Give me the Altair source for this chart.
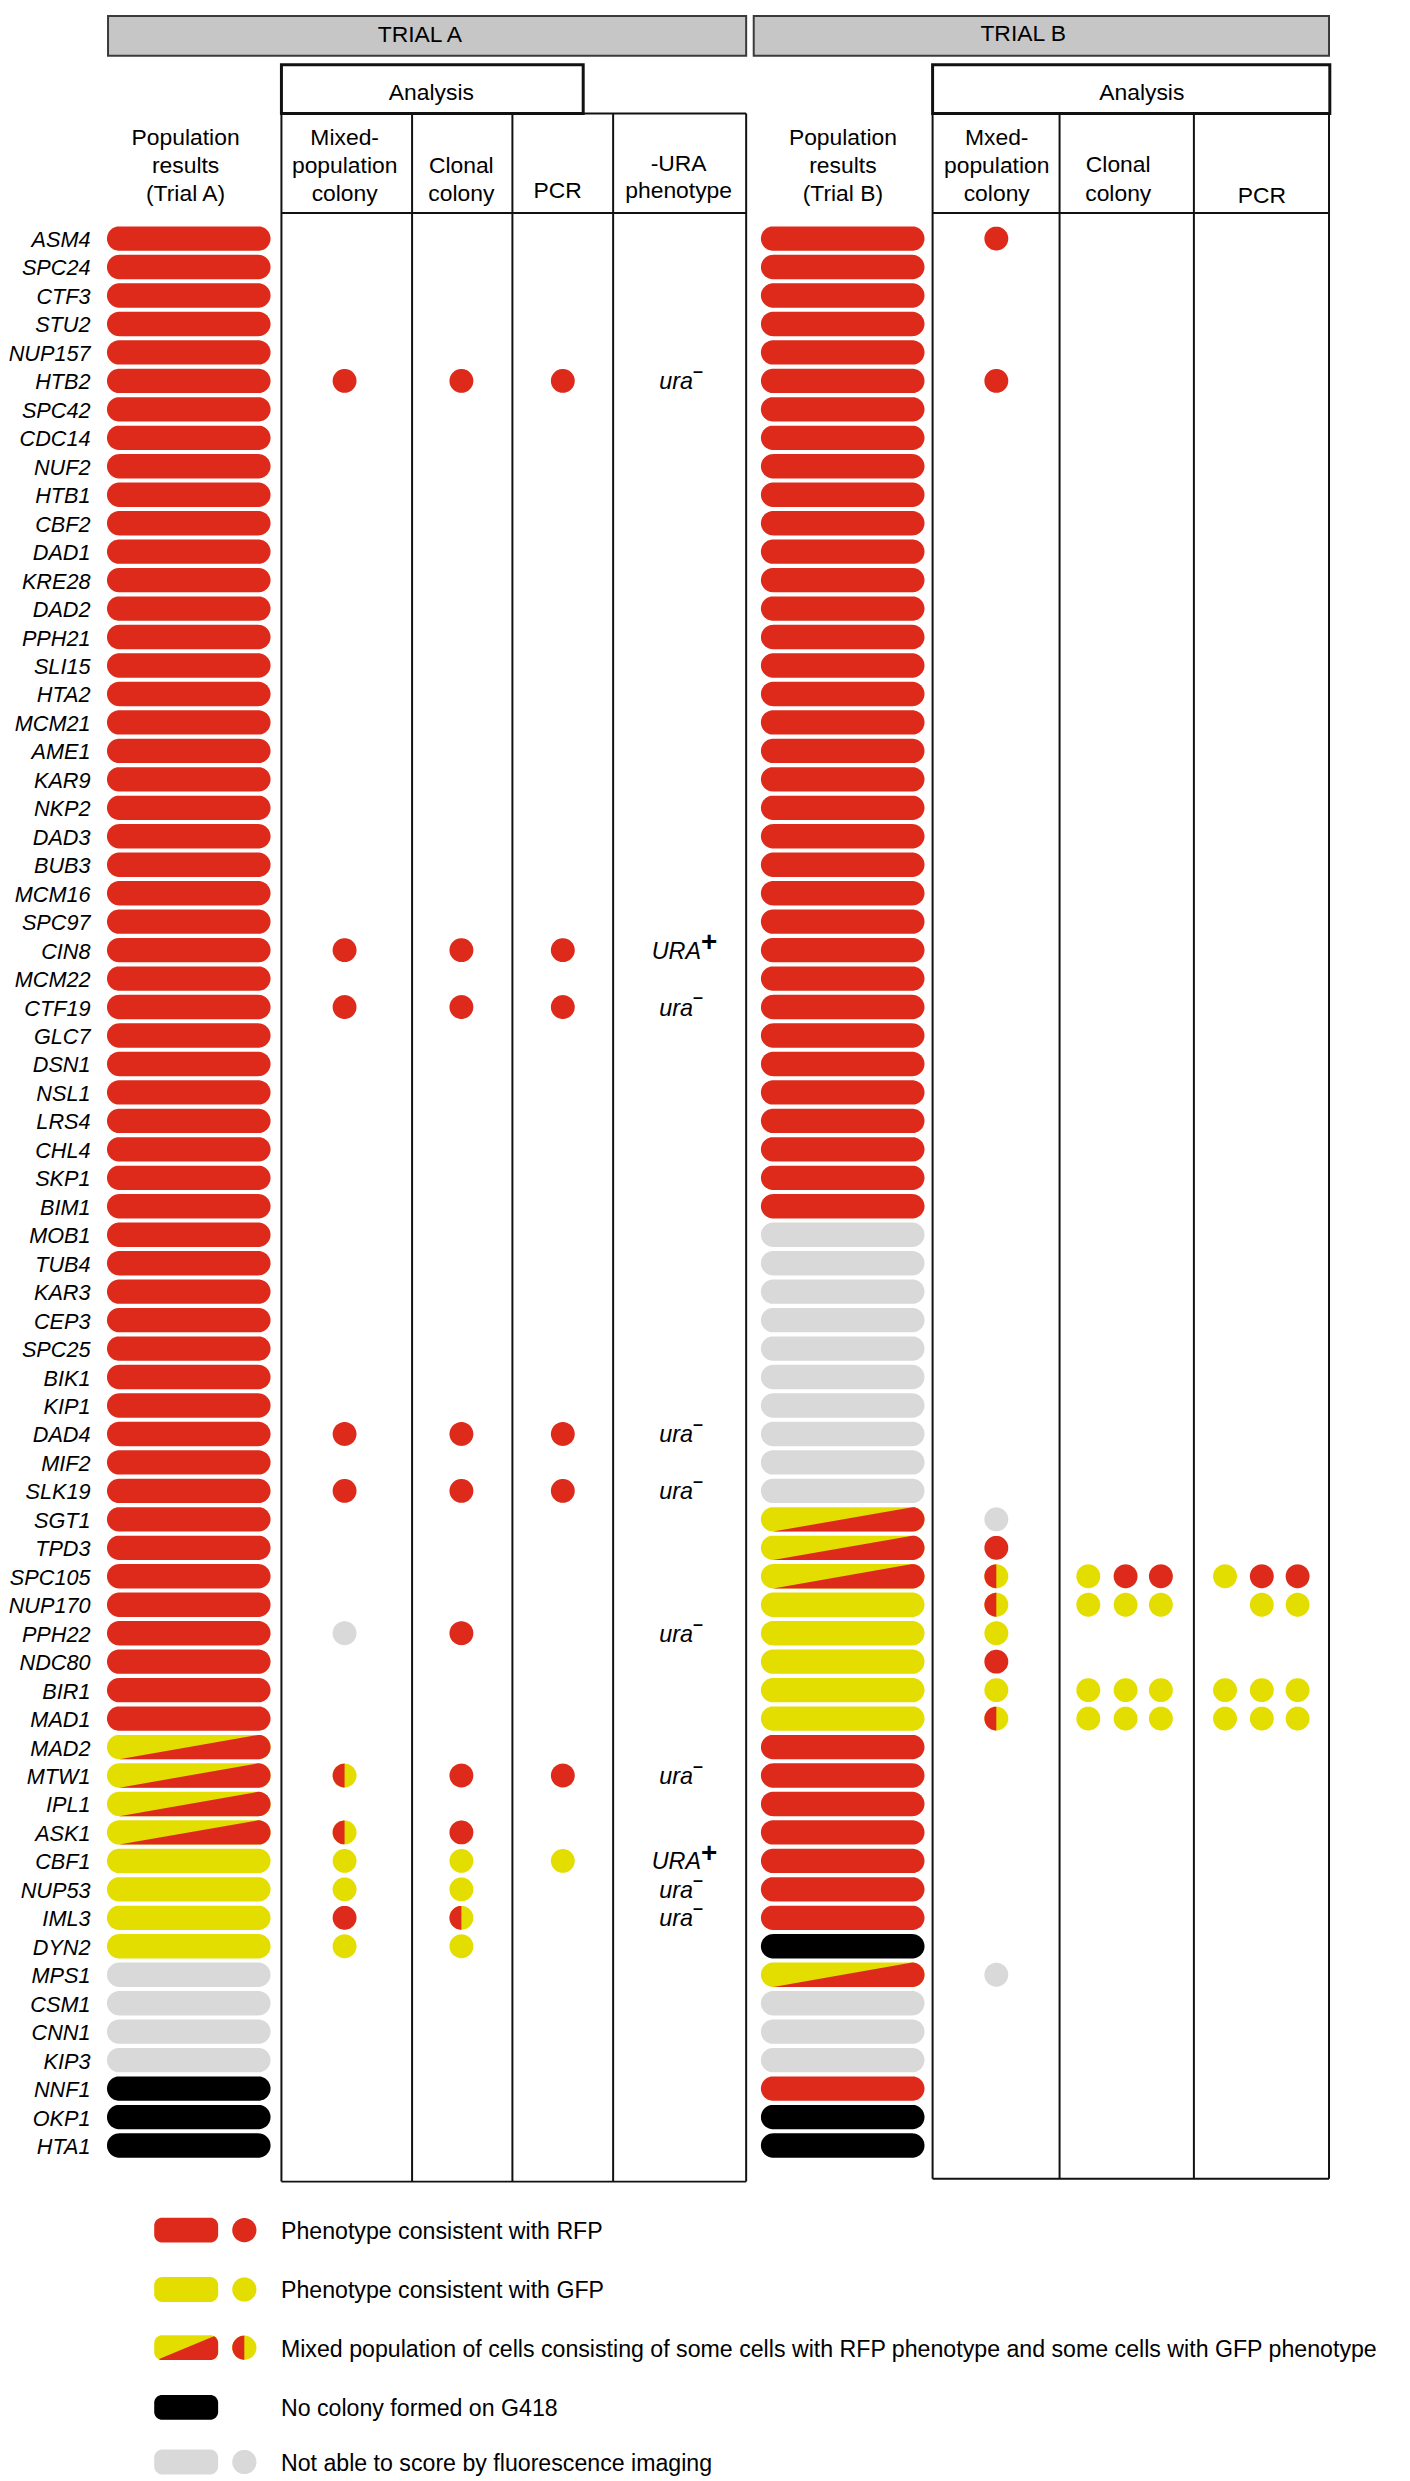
import math
import altair as alt
import pandas as pd

# ---------------- data ----------------
GENES = [
    "ASM4", "SPC24", "CTF3", "STU2", "NUP157", "HTB2", "SPC42", "CDC14", "NUF2", "HTB1",
    "CBF2", "DAD1", "KRE28", "DAD2", "PPH21", "SLI15", "HTA2", "MCM21", "AME1", "KAR9",
    "NKP2", "DAD3", "BUB3", "MCM16", "SPC97", "CIN8", "MCM22", "CTF19", "GLC7", "DSN1",
    "NSL1", "LRS4", "CHL4", "SKP1", "BIM1", "MOB1", "TUB4", "KAR3", "CEP3", "SPC25",
    "BIK1", "KIP1", "DAD4", "MIF2", "SLK19", "SGT1", "TPD3", "SPC105", "NUP170", "PPH22",
    "NDC80", "BIR1", "MAD1", "MAD2", "MTW1", "IPL1", "ASK1", "CBF1", "NUP53", "IML3",
    "DYN2", "MPS1", "CSM1", "CNN1", "KIP3", "NNF1", "OKP1", "HTA1",
]
# R = RFP, Y = GFP, M = mixed, K = no colony, G = not scorable
A_POP = [
    "R", "R", "R", "R", "R", "R", "R", "R", "R", "R",
    "R", "R", "R", "R", "R", "R", "R", "R", "R", "R",
    "R", "R", "R", "R", "R", "R", "R", "R", "R", "R",
    "R", "R", "R", "R", "R", "R", "R", "R", "R", "R",
    "R", "R", "R", "R", "R", "R", "R", "R", "R", "R",
    "R", "R", "R", "M", "M", "M", "M", "Y", "Y", "Y",
    "Y", "G", "G", "G", "G", "K", "K", "K",
]
B_POP = [
    "R", "R", "R", "R", "R", "R", "R", "R", "R", "R",
    "R", "R", "R", "R", "R", "R", "R", "R", "R", "R",
    "R", "R", "R", "R", "R", "R", "R", "R", "R", "R",
    "R", "R", "R", "R", "R", "G", "G", "G", "G", "G",
    "G", "G", "G", "G", "G", "M", "M", "M", "Y", "Y",
    "Y", "Y", "Y", "R", "R", "R", "R", "R", "R", "R",
    "K", "M", "G", "G", "G", "R", "K", "K",
]
A_MIXED = {"HTB2": "R", "CIN8": "R", "CTF19": "R", "DAD4": "R", "SLK19": "R", "PPH22": "G",
           "MTW1": "M", "ASK1": "M", "CBF1": "Y", "NUP53": "Y", "IML3": "R", "DYN2": "Y"}
A_CLONAL = {"HTB2": "R", "CIN8": "R", "CTF19": "R", "DAD4": "R", "SLK19": "R", "PPH22": "R",
            "MTW1": "R", "ASK1": "R", "CBF1": "Y", "NUP53": "Y", "IML3": "M", "DYN2": "Y"}
A_PCR = {"HTB2": "R", "CIN8": "R", "CTF19": "R", "DAD4": "R", "SLK19": "R", "MTW1": "R", "CBF1": "Y"}
A_URA = {"HTB2": "ura-", "CIN8": "URA+", "CTF19": "ura-", "DAD4": "ura-", "SLK19": "ura-",
         "PPH22": "ura-", "MTW1": "ura-", "CBF1": "URA+", "NUP53": "ura-", "IML3": "ura-"}
B_MIXED = {"ASM4": "R", "HTB2": "R", "SGT1": "G", "TPD3": "R", "SPC105": "M", "NUP170": "M",
           "PPH22": "Y", "NDC80": "R", "BIR1": "Y", "MAD1": "M", "MPS1": "G"}
B_CLONAL = {"SPC105": ["Y", "R", "R"], "NUP170": ["Y", "Y", "Y"],
            "BIR1": ["Y", "Y", "Y"], "MAD1": ["Y", "Y", "Y"]}
B_PCR = {"SPC105": ["Y", "R", "R"], "NUP170": [None, "Y", "Y"],
         "BIR1": ["Y", "Y", "Y"], "MAD1": ["Y", "Y", "Y"]}

LEGEND_CODES = ["R", "Y", "M", "K", "G"]
LEGEND_LABELS = [
    "Phenotype consistent with RFP",
    "Phenotype consistent with GFP",
    "Mixed population of cells consisting of some cells with RFP phenotype and some cells with GFP phenotype",
    "No colony formed on G418",
    "Not able to score by fluorescence imaging",
]

# ---------------- styles & layout ----------------
W, H = 1402, 2473
RED, YELLOW, GRAY, BLACK = "#DD2A1A", "#E4DE00", "#D9D9D9", "#000000"
CODES = ["R", "Y", "M", "G", "K"]
FILLS = [RED, YELLOW, YELLOW, GRAY, BLACK]
FONT = "Liberation Sans"

ROW_RANGE = [210.5, 2157.0]
LABEL_X = 83.0
COL_X = {"A_pop": 181.8, "B_pop": 839.5, "A_mixed": 338.5, "A_clonal": 456.0,
         "A_pcr": 558.0, "B_mixed": 994.0}
REP_X = {"B_clonal": [1086.5, 1124.0, 1159.5], "B_pcr": [1224.0, 1261.0, 1297.0]}
URA_X = {"ura-": 689.0, "URA+": 697.0}
BAR_W, BAR_H = 164.5, 24.5
DOT_D = 24.0
LEG_BAR_X, LEG_DOT_X, LEG_TEXT_X = 179.2, 237.7, 274.5
LEG_Y = [2227.8, 2287.5, 2346.0, 2406.0, 2461.0]
LEG_W, LEG_H, LEG_R = 64.3, 25.0, 8.0


# ---------------- shape paths ----------------
def rrect(w, h, r, n=18):
    pts = []
    for cx, cy, a0, a1 in [(w / 2 - r, -h / 2 + r, -90, 0), (w / 2 - r, h / 2 - r, 0, 90),
                           (-w / 2 + r, h / 2 - r, 90, 180), (-w / 2 + r, -h / 2 + r, 180, 270)]:
        for k in range(n + 1):
            a = math.radians(a0 + (a1 - a0) * k / n)
            pts.append((cx + r * math.cos(a), cy + r * math.sin(a)))
    return pts


def clip(poly, f):
    out = []
    for i in range(len(poly)):
        p, q = poly[i], poly[(i + 1) % len(poly)]
        fp, fq = f(p), f(q)
        if fp >= 0:
            out.append(p)
        if (fp >= 0) != (fq >= 0):
            t = fp / (fp - fq)
            out.append((p[0] + t * (q[0] - p[0]), p[1] + t * (q[1] - p[1])))
    return out


def to_path(poly, w):
    s = w / 2.0
    body = " L ".join(f"{x / s:.4f} {y / s:.4f}" for x, y in poly)
    return "M " + body + " Z"


def lower_right(w, h, inset):
    x1, y1, x2, y2 = -w / 2 + inset, h / 2, w / 2 - inset, -h / 2
    k = (y2 - y1) / (x2 - x1)
    return lambda p: (p[1] - y1) - k * (p[0] - x1)


pill_poly = rrect(BAR_W, BAR_H, BAR_H / 2)
PILL = to_path(pill_poly, BAR_W)
PILL_RED = to_path(clip(pill_poly, lower_right(BAR_W, BAR_H, BAR_H / 2)), BAR_W)
leg_poly = rrect(LEG_W, LEG_H, LEG_R)
LEG = to_path(leg_poly, LEG_W)
LEG_RED = to_path(clip(leg_poly, lower_right(LEG_W, LEG_H, 2.0)), LEG_W)
circ = [(math.cos(2 * math.pi * k / 72), math.sin(2 * math.pi * k / 72)) for k in range(72)]
CIRCLE = to_path(circ, 2)
HALF = to_path(clip(circ, lambda p: -p[0]), 2)

# ---------------- tables ----------------
pop_rows = []
for g, a, b in zip(GENES, A_POP, B_POP):
    pop_rows.append({"gene": g, "x": COL_X["A_pop"], "code": a})
    pop_rows.append({"gene": g, "x": COL_X["B_pop"], "code": b})
pop = pd.DataFrame(pop_rows)

dot_rows = []
for key, d in [("A_mixed", A_MIXED), ("A_clonal", A_CLONAL), ("A_pcr", A_PCR), ("B_mixed", B_MIXED)]:
    for g, c in d.items():
        dot_rows.append({"gene": g, "x": COL_X[key], "code": c})
for key, d in [("B_clonal", B_CLONAL), ("B_pcr", B_PCR)]:
    for g, reps in d.items():
        for xr, c in zip(REP_X[key], reps):
            if c:
                dot_rows.append({"gene": g, "x": xr, "code": c})
dots = pd.DataFrame(dot_rows)

ura = pd.DataFrame([{"gene": g, "x": URA_X[v],
                     "base": v[:-1], "sup": "+" if v.endswith("+") else "\u2013", "kind": v}
                    for g, v in A_URA.items()])
labels = pd.DataFrame({"gene": GENES, "x": [LABEL_X] * len(GENES)})

legend = pd.DataFrame({"code": LEGEND_CODES, "label": LEGEND_LABELS, "y": LEG_Y})

# frame: header boxes, lines and header texts (layout, chart pixels)
gray_boxes = pd.DataFrame([
    {"x": 100.6, "x2": 742.4, "y": 1.0, "y2": 41.0},
    {"x": 750.0, "x2": 1328.6, "y": 1.0, "y2": 41.0},
])
analysis_boxes = pd.DataFrame([
    {"x": 275.0, "x2": 578.5, "y": 50.0, "y2": 99.0},
    {"x": 929.9, "x2": 1329.4, "y": 50.0, "y2": 99.0},
])
lines = []
for xv in [275.0, 406.4, 507.3, 608.6, 742.4]:
    lines.append({"x": xv, "x2": xv, "y": 99.0, "y2": 2179.0})
for yv in [99.0, 199.0, 2179.0]:
    lines.append({"x": 275.0, "x2": 742.4, "y": yv, "y2": yv})
for xv in [929.9, 1057.6, 1192.7, 1328.6]:
    lines.append({"x": xv, "x2": xv, "y": 99.0, "y2": 2176.0})
for yv in [199.0, 2176.0]:
    lines.append({"x": 929.9, "x2": 1328.6, "y": yv, "y2": yv})
lines = pd.DataFrame(lines)

head_text = pd.DataFrame([
    {"x": 414.2, "y": 27.0, "text": "TRIAL A"},
    {"x": 1021.0, "y": 26.0, "text": "TRIAL B"},
    {"x": 425.8, "y": 85.3, "text": "Analysis"},
    {"x": 1140.3, "y": 85.3, "text": "Analysis"},
    {"x": 178.6, "y": 130.3, "text": "Population"},
    {"x": 178.6, "y": 158.7, "text": "results"},
    {"x": 178.6, "y": 187.3, "text": "(Trial A)"},
    {"x": 338.6, "y": 130.3, "text": "Mixed-"},
    {"x": 338.6, "y": 158.7, "text": "population"},
    {"x": 338.6, "y": 187.3, "text": "colony"},
    {"x": 455.9, "y": 158.7, "text": "Clonal"},
    {"x": 455.9, "y": 187.3, "text": "colony"},
    {"x": 552.8, "y": 183.7, "text": "PCR"},
    {"x": 674.5, "y": 157.0, "text": "-URA"},
    {"x": 674.5, "y": 184.0, "text": "phenotype"},
    {"x": 839.7, "y": 130.3, "text": "Population"},
    {"x": 839.7, "y": 158.7, "text": "results"},
    {"x": 839.7, "y": 187.3, "text": "(Trial B)"},
    {"x": 994.4, "y": 130.3, "text": "Mxed-"},
    {"x": 994.4, "y": 158.7, "text": "population"},
    {"x": 994.4, "y": 187.3, "text": "colony"},
    {"x": 1116.6, "y": 157.7, "text": "Clonal"},
    {"x": 1116.6, "y": 187.3, "text": "colony"},
    {"x": 1261.0, "y": 189.3, "text": "PCR"},
])

# ---------------- encodings ----------------
XS = alt.Scale(domain=[0, W], range=[0, W], nice=False, zero=False)
FYS = alt.Scale(domain=[0, H], range=[0, H], nice=False, zero=False)


def X(f="x"):
    return alt.X(f"{f}:Q", scale=XS, axis=None)


def X2(f="x2"):
    return alt.X2(f"{f}:Q")


def FY(f="y"):
    return alt.Y(f"{f}:Q", scale=FYS, axis=None)


def GY():
    return alt.Y("gene:N", scale=alt.Scale(type="point", domain=GENES, range=ROW_RANGE, padding=0.5),
                 axis=None, sort=GENES)


COLOR = alt.Color("code:N", scale=alt.Scale(domain=CODES, range=FILLS), legend=None)


def sym(shape, size):
    return dict(shape=shape, size=size, filled=True, opacity=1, strokeWidth=0)


layers = []
# header gray boxes
layers.append(alt.Chart(gray_boxes).mark_rect(fill="#C6C6C6", stroke="#3a3a3a", strokeWidth=2)
              .encode(x=X(), x2=X2(), y=FY(), y2=alt.Y2("y2:Q")))
# table lines
layers.append(alt.Chart(lines).mark_rule(color="#111111", strokeWidth=2)
              .encode(x=X(), x2=X2(), y=FY(), y2=alt.Y2("y2:Q")))
# analysis boxes
layers.append(alt.Chart(analysis_boxes).mark_rect(fill="white", stroke="#111111", strokeWidth=3)
              .encode(x=X(), x2=X2(), y=FY(), y2=alt.Y2("y2:Q")))
# header text
layers.append(alt.Chart(head_text).mark_text(font=FONT, fontSize=23, align="center",
                                              baseline="alphabetic", color="black")
              .encode(x=X(), y=FY(), text="text:N"))
# gene labels
layers.append(alt.Chart(labels).mark_text(font=FONT, fontSize=21.8, fontStyle="italic", align="right",
                                           baseline="alphabetic", dy=8.5, color="black")
              .encode(x=X(), y=GY(), text="gene:N"))
# population pills
layers.append(alt.Chart(pop).mark_point(**sym(PILL, BAR_W ** 2)).encode(x=X(), y=GY(), color=COLOR))
layers.append(alt.Chart(pop).transform_filter(alt.datum.code == "M")
              .mark_point(**sym(PILL_RED, BAR_W ** 2), color=RED).encode(x=X(), y=GY()))
# dots
layers.append(alt.Chart(dots).mark_point(**sym(CIRCLE, DOT_D ** 2)).encode(x=X(), y=GY(), color=COLOR))
layers.append(alt.Chart(dots).transform_filter(alt.datum.code == "M")
              .mark_point(**sym(HALF, DOT_D ** 2), color=RED).encode(x=X(), y=GY()))
# -URA phenotype text
layers.append(alt.Chart(ura).mark_text(font=FONT, fontSize=23.5, fontStyle="italic", align="right",
                                        baseline="alphabetic", dy=8.5, color="black")
              .encode(x=X(), y=GY(), text="base:N"))
layers.append(alt.Chart(ura).transform_filter(alt.datum.kind == "URA+")
              .mark_text(font=FONT, fontSize=28, fontWeight="bold", align="left",
                         baseline="alphabetic", dy=1, color="black")
              .encode(x=X(), y=GY(), text="sup:N"))
layers.append(alt.Chart(ura).transform_filter(alt.datum.kind == "ura-")
              .mark_text(font=FONT, fontSize=18, fontWeight="bold", align="left",
                         baseline="alphabetic", dy=-3.7, color="black")
              .encode(x=X(), y=GY(), text="sup:N"))
# legend
layers.append(alt.Chart(legend).mark_point(**sym(LEG, LEG_W ** 2))
              .encode(x=alt.value(LEG_BAR_X), y=FY(), color=COLOR))
layers.append(alt.Chart(legend).transform_filter(alt.datum.code == "M")
              .mark_point(**sym(LEG_RED, LEG_W ** 2), color=RED)
              .encode(x=alt.value(LEG_BAR_X), y=FY()))
layers.append(alt.Chart(legend).transform_filter(alt.datum.code != "K")
              .mark_point(**sym(CIRCLE, 24.3 ** 2)).encode(x=alt.value(LEG_DOT_X), y=FY(), color=COLOR))
layers.append(alt.Chart(legend).transform_filter(alt.datum.code == "M")
              .mark_point(**sym(HALF, 24.3 ** 2), color=RED).encode(x=alt.value(LEG_DOT_X), y=FY()))
layers.append(alt.Chart(legend).mark_text(font=FONT, fontSize=23.3, align="left",
                                           baseline="alphabetic", dy=9, color="black")
              .encode(x=alt.value(LEG_TEXT_X), y=FY(), text="label:N"))

chart = (alt.layer(*layers)
         .resolve_scale(y="independent")
         .properties(width=W, height=H, padding=0, autosize=alt.AutoSizeParams(type="none"),
                     background="white")
         .configure_view(stroke=None))

chart.save("out.html", embed_options={"renderer": "svg", "actions": False})
